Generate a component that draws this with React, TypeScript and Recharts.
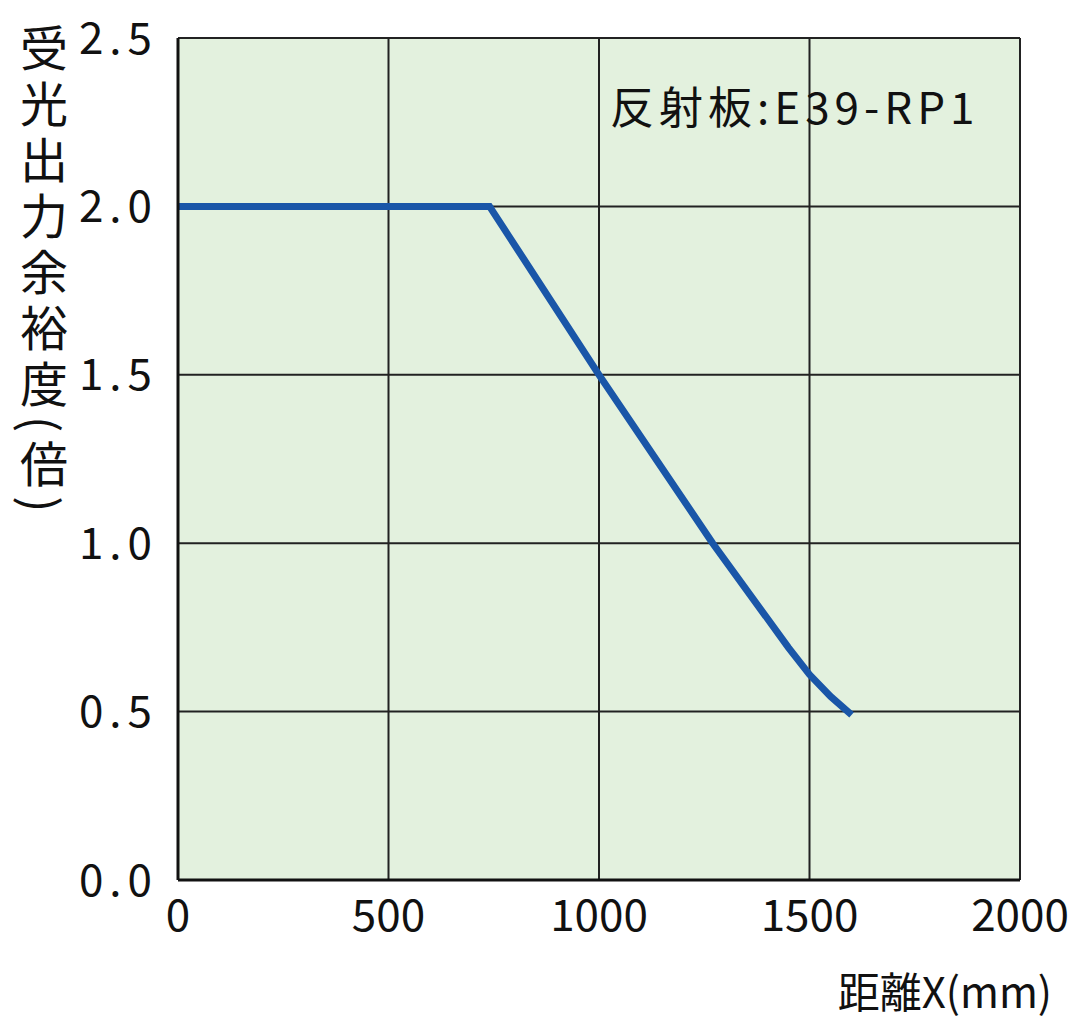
import React from "react";
import {
  LineChart,
  Line,
  XAxis,
  YAxis,
  CartesianGrid,
  ReferenceArea,
  Label,
} from "recharts";

// distance (mm) vs excess gain (x)
const distance = [0, 740, 1000, 1270, 1450, 1500, 1550, 1600];
const excessGain = [2.0, 2.0, 1.5, 1.0, 0.69, 0.61, 0.545, 0.49];

const xTicks = [0, 500, 1000, 1500, 2000];
const yTicks = [0, 0.5, 1.0, 1.5, 2.0, 2.5];

const yTitle = "受光出力余裕度(倍)";
const xTitle = "距離X(mm)";
const reflectorNote = "反射板:E39-RP1";

const FONT = '"Noto Sans CJK JP", "Noto Sans", sans-serif';

const data = distance.map((d, i) => ({ d, v: excessGain[i] }));

function YTitle(props: any) {
  const { viewBox } = props;
  return (
    <text
      x={44}
      y={viewBox.y - 14}
      fontSize={48}
      fontFamily={FONT}
      fill="#111"
      style={{ writingMode: "vertical-rl", letterSpacing: 8 }}
    >
      {yTitle}
    </text>
  );
}

function XTitle(props: any) {
  const { viewBox } = props;
  return (
    <text
      x={viewBox.x + viewBox.width + 32}
      y={viewBox.y + 128}
      fontSize={42}
      fontFamily={FONT}
      fill="#111"
      textAnchor="end"
    >
      {xTitle}
    </text>
  );
}

function Note(props: any) {
  const { viewBox } = props;
  return (
    <text
      x={viewBox.x + 432}
      y={viewBox.y + 86}
      fontSize={44}
      fontFamily={FONT}
      fill="#111"
      style={{ letterSpacing: 5 }}
    >
      {reflectorNote}
    </text>
  );
}

export default function App() {
  return (
    <div style={{ position: "absolute", left: 0, top: 0, background: "#fff" }}>
      <LineChart
        width={1080}
        height={1023}
        data={data}
        margin={{ top: 38, right: 60, bottom: 0, left: 0 }}
      >
        <CartesianGrid
          fill="#e3f1de"
          stroke="#222"
          strokeWidth={2}
          horizontalValues={yTicks}
          verticalValues={xTicks}
        />
        <XAxis
          dataKey="d"
          type="number"
          domain={[0, 2000]}
          ticks={xTicks}
          height={143}
          axisLine={{ stroke: "#111", strokeWidth: 3 }}
          tickLine={false}
          tickMargin={14}
          tick={{ fontSize: 44, fill: "#111", fontFamily: FONT }}
        >
          <Label content={<XTitle />} />
        </XAxis>
        <YAxis
          type="number"
          domain={[0, 2.5]}
          ticks={yTicks}
          width={178}
          axisLine={{ stroke: "#111", strokeWidth: 3 }}
          tickLine={false}
          tickMargin={14}
          tickFormatter={(v: number) => v.toFixed(1)}
          tick={{ fontSize: 44, fill: "#111", fontFamily: FONT, letterSpacing: 6 }}
        >
          <Label content={<YTitle />} />
        </YAxis>
        <ReferenceArea
          x1={0}
          x2={2000}
          y1={0}
          y2={2.5}
          fillOpacity={0}
          strokeOpacity={0}
          label={<Note />}
        />
        <Line
          type="linear"
          dataKey="v"
          stroke="#1a56a8"
          strokeWidth={7}
          dot={false}
          isAnimationActive={false}
        />
      </LineChart>
    </div>
  );
}
